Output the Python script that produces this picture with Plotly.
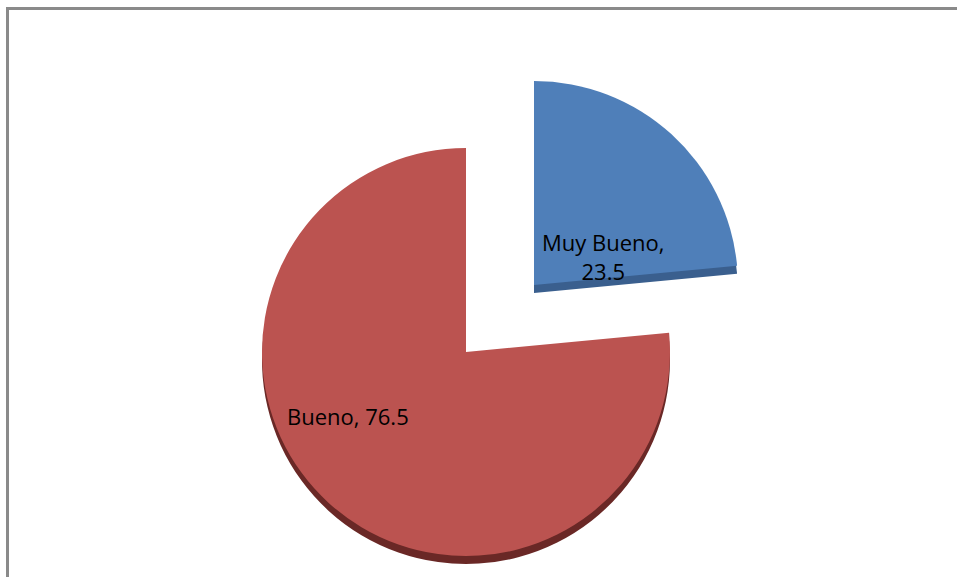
import plotly.graph_objects as go

# Survey result shares (percent)
categories = ["Muy Bueno", "Bueno"]
values = [23.5, 76.5]

face_colors = ["#4F7FB9", "#BB5350"]
rim_colors = ["#3A5F8E", "#6A2826"]

W, H = 957, 577
TRANSPARENT = "rgba(0,0,0,0)"


def domain_for(cx, cy, r):
    """Pixel centre/radius -> paper domain (margins are zero)."""
    return dict(x=[(cx - r) / W, (cx + r) / W],
                y=[1 - (cy + r) / H, 1 - (cy - r) / H])


def slice_trace(idx, cx, cy, r, colors):
    cols = [colors[i] if i == idx else TRANSPARENT for i in range(len(values))]
    return go.Pie(
        labels=categories,
        values=values,
        sort=False,
        direction="clockwise",
        rotation=0,
        marker=dict(colors=cols, line=dict(width=0)),
        textinfo="none",
        hoverinfo="skip",
        showlegend=False,
        domain=domain_for(cx, cy, r),
    )


R = 204
RIM = 8
# slice centres: the small slice is pulled out toward the upper right
centres = {0: (534, 285), 1: (466, 352)}

fig = go.Figure()
# darker copies offset downward give the pie its thickness
for i in (1, 0):
    cx, cy = centres[i]
    fig.add_trace(slice_trace(i, cx, cy + RIM, R, rim_colors))
for i in (1, 0):
    cx, cy = centres[i]
    fig.add_trace(slice_trace(i, cx, cy, R, face_colors))

label_font = dict(family="'Open Sans', sans-serif", size=22, color="#000000")
fig.add_annotation(
    x=603 / W, y=1 - 256 / H, xref="paper", yref="paper",
    text=f"{categories[0]},<br>{values[0]}", showarrow=False,
    font=label_font, align="center",
)
fig.add_annotation(
    x=348 / W, y=1 - 433 / H, xref="paper", yref="paper",
    text=f"{categories[1]}, {values[1]}", showarrow=False,
    font=label_font, align="center",
)

# chart frame: only the left and top edges fall inside the view
frame = dict(color="#8A8A8A", width=3)
fig.add_shape(type="line", xref="paper", yref="paper",
              x0=7.5 / W, x1=7.5 / W, y0=0, y1=1 - 7 / H, line=frame)
fig.add_shape(type="line", xref="paper", yref="paper",
              x0=6 / W, x1=1, y0=1 - 8.5 / H, y1=1 - 8.5 / H, line=frame)

fig.update_layout(
    width=W, height=H,
    margin=dict(l=0, r=0, t=0, b=0),
    paper_bgcolor="white",
    plot_bgcolor="white",
)

fig.write_html("out.html")
